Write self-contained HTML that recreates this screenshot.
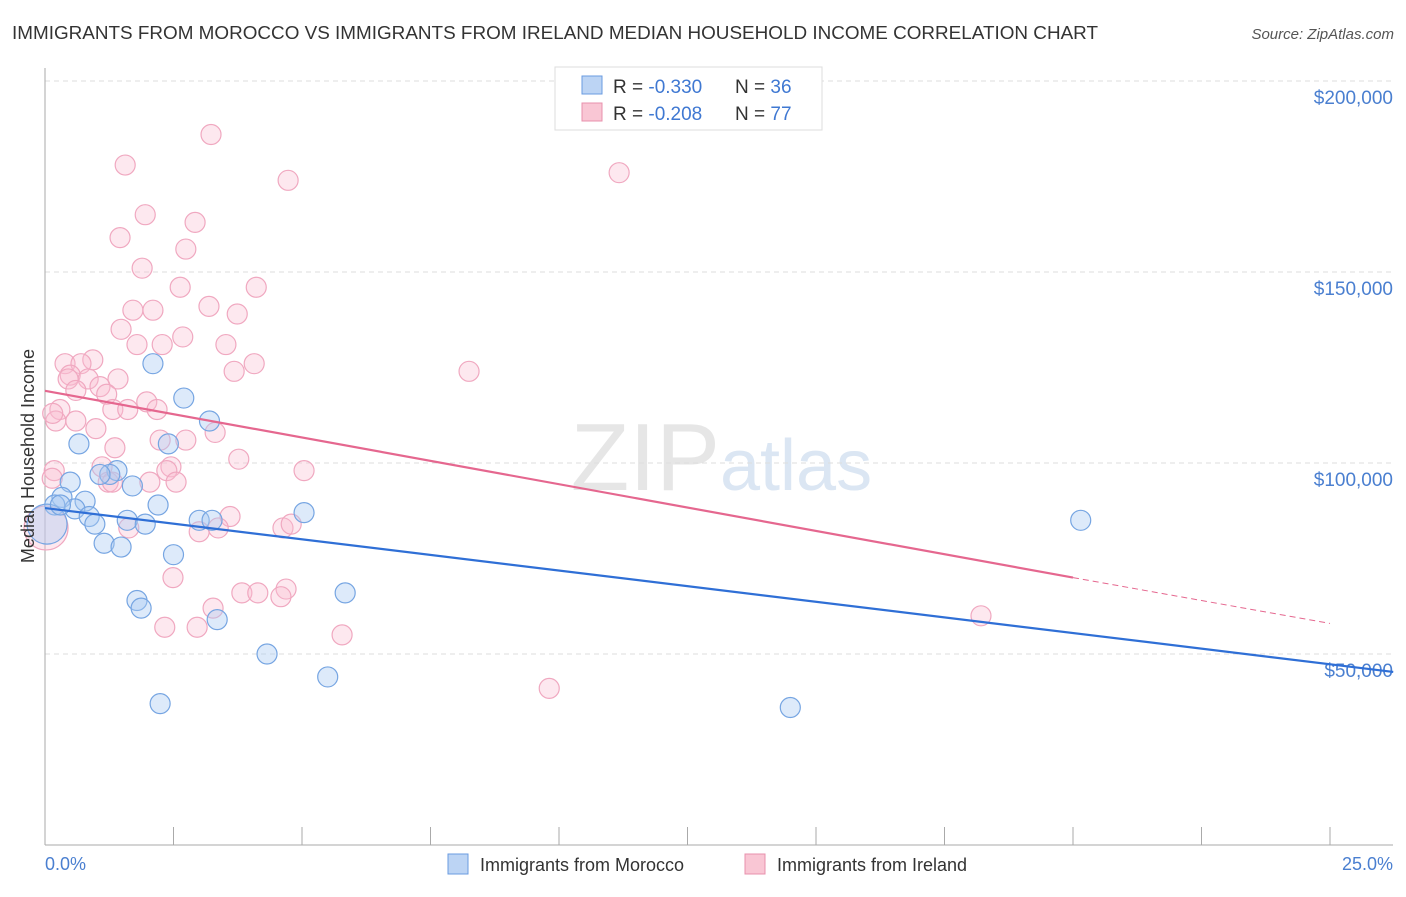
<!DOCTYPE html>
<html><head><meta charset="utf-8"><style>
body{margin:0;background:#fff;font-family:"Liberation Sans",sans-serif;}
svg text{font-family:"Liberation Sans",sans-serif;}
</style></head><body>
<svg id="c" width="1406" height="892" xmlns="http://www.w3.org/2000/svg">
<text x="12" y="39" font-size="18" fill="#333" textLength="1086" lengthAdjust="spacingAndGlyphs">IMMIGRANTS FROM MOROCCO VS IMMIGRANTS FROM IRELAND MEDIAN HOUSEHOLD INCOME CORRELATION CHART</text>
<text x="1394" y="39" font-size="15" fill="#555" font-style="italic" text-anchor="end">Source: ZipAtlas.com</text>
<text x="720" y="490" font-size="96" fill="#e6e6e6" font-family="Liberation Serif" text-anchor="end">ZIP</text>
<text x="720" y="490" font-size="72" fill="#dbe6f3">atlas</text>
<g id="grid"></g>
<line x1="45" y1="68" x2="45" y2="845" stroke="#aaa"/>
<line x1="45" y1="845" x2="1393" y2="845" stroke="#aaa"/>
<g id="ticks"></g>
<g id="pts"></g>
<g id="lines"></g>
<text x="34" y="456" font-size="18" fill="#333" text-anchor="middle" transform="rotate(-90 34 456)">Median Household Income</text>
<text x="45" y="870" font-size="18" fill="#4a7fd0">0.0%</text>
<text x="1393" y="870" font-size="18" fill="#4a7fd0" text-anchor="end">25.0%</text>
<g>
<rect x="555" y="67" width="267" height="63" fill="#fff" stroke="#ddd"/>
<rect x="582" y="76" width="20" height="18" fill="#bcd4f4" stroke="#6a9be0"/>
<rect x="582" y="103" width="20" height="18" fill="#f9c6d4" stroke="#e890ac"/>
<text x="613" y="93" font-size="19" fill="#333">R = <tspan fill="#3f78d2">-0.330</tspan><tspan x="735">N = </tspan><tspan fill="#3f78d2">36</tspan></text>
<text x="613" y="120" font-size="19" fill="#333">R = <tspan fill="#3f78d2">-0.208</tspan><tspan x="735">N = </tspan><tspan fill="#3f78d2">77</tspan></text>
</g>
<g>
<rect x="448" y="854" width="20" height="20" fill="#bcd4f4" stroke="#6a9be0"/>
<text x="480" y="871" font-size="18" fill="#333">Immigrants from Morocco</text>
<rect x="745" y="854" width="20" height="20" fill="#f9c6d4" stroke="#e890ac"/>
<text x="777" y="871" font-size="18" fill="#333">Immigrants from Ireland</text>
</g>
</svg>
<script>
const yTicks=[50000,100000,150000,200000];
const yTickLabels=["$50,000","$100,000","$150,000","$200,000"];
const xTicks=[0,2.5,5,7.5,10,12.5,15,17.5,20,22.5,25];
const moroccoX=[2.1,2.7,3.2,0.66,2.4,1.4,1.26,1.07,0.49,1.7,0.33,0.78,0.19,0.58,2.2,5.04,0.86,0.97,1.6,1.95,3.0,3.25,1.15,1.48,2.5,1.79,1.87,3.35,5.84,4.32,5.5,2.24,14.5,20.15,0.04,0.3];
const moroccoY=[126,117,111,105,105,98,97,97,95,94,91,90,89,88,89,87,86,84,85,84,85,85,79,78,76,64,62,59,66,50,44,37,36,85,84,89];
const moroccoR=[10,10,10,10,10,10,10,10,10,10,10,10,10,10,10,10,10,10,10,10,10,10,10,10,10,10,10,10,10,10,10,10,10,10,20,10];
const irelandX=[3.23,1.56,4.73,11.17,1.95,2.92,1.46,2.74,1.89,2.63,4.11,3.19,1.71,2.1,3.74,1.48,2.68,1.79,2.28,3.52,0.39,0.93,0.7,4.07,0.49,3.68,8.25,0.84,0.45,1.42,1.07,0.6,1.2,1.98,0.29,1.32,1.61,2.18,0.6,0.21,0.99,3.31,2.24,2.74,1.36,0.18,0.14,1.11,3.77,2.45,2.37,5.04,1.23,1.31,2.04,2.55,3.0,3.6,3.37,1.63,4.63,4.79,2.49,4.69,3.83,4.14,4.59,3.27,2.96,2.33,5.78,9.81,18.21,0.02,0.15];
const irelandY=[186,178,174,176,165,163,159,156,151,146,146,141,140,140,139,135,133,131,131,131,126,127,126,126,123,124,124,122,122,122,120,119,118,116,114,114,114,114,111,111,109,108,106,106,104,98,96,99,101,99,98,98,95,95,95,95,82,86,83,83,83,84,70,67,66,66,65,62,57,57,55,41,60,83,113];
const irelandR=[10,10,10,10,10,10,10,10,10,10,10,10,10,10,10,10,10,10,10,10,10,10,10,10,10,10,10,10,10,10,10,10,10,10,10,10,10,10,10,10,10,10,10,10,10,10,10,10,10,10,10,10,10,10,10,10,10,10,10,10,10,10,10,10,10,10,10,10,10,10,10,10,10,22,10];
const moroccoTrend=[88200,45300];
const moroccoTrendX=[0,26.23];
const irelandTrend=[118900,70000,58000];
const irelandTrendX=[0,20,25];
const NS="http://www.w3.org/2000/svg";
const X=p=>45+p*51.4;
const Y=v=>845-v/50000*191;
function mk(t,a,par){const e=document.createElementNS(NS,t);for(const k in a)e.setAttribute(k,a[k]);par.appendChild(e);return e;}
const grid=document.getElementById('grid'),ticks=document.getElementById('ticks'),pts=document.getElementById('pts'),lines=document.getElementById('lines');
yTicks.forEach((v,i)=>{
 const l=mk('line',{x1:45,x2:1393,y1:Y(v),y2:Y(v),stroke:'#ddd','stroke-dasharray':'5,4'},grid);
 
 
 const t=mk('text',{x:1393,y:Y(v)+23,'font-size':19,fill:'#4a7fd0','text-anchor':'end'},grid);
 t.textContent=yTickLabels[i];
 
 
});
xTicks.forEach(p=>{
 const l=mk('line',{x1:X(p),x2:X(p),y1:827,y2:845,stroke:'#aaa'},ticks);
 
 
});
irelandX.forEach((p,i)=>{
 const c=mk('circle',{cx:X(p),cy:Y(irelandY[i]*1000),r:irelandR[i],fill:'rgba(248,190,208,0.35)',stroke:'#f0a8c0','stroke-width':1.2},pts);
 
 
});
moroccoX.forEach((p,i)=>{
 const c=mk('circle',{cx:X(p),cy:Y(moroccoY[i]*1000),r:moroccoR[i],fill:'rgba(170,202,242,0.4)',stroke:'#76a5e2','stroke-width':1.2},pts);
 
 
});
const bl=mk('line',{x1:X(moroccoTrendX[0]),y1:Y(moroccoTrend[0]),x2:X(moroccoTrendX[1]),y2:Y(moroccoTrend[1]),stroke:'#2f6fd6','stroke-width':2.2},lines);


const pl=mk('line',{x1:X(irelandTrendX[0]),y1:Y(irelandTrend[0]),x2:X(irelandTrendX[1]),y2:Y(irelandTrend[1]),stroke:'#e5678f','stroke-width':2.2},lines);


const pd=mk('line',{x1:X(irelandTrendX[1]),y1:Y(irelandTrend[1]),x2:X(irelandTrendX[2]),y2:Y(irelandTrend[2]),stroke:'#e5678f','stroke-width':1,'stroke-dasharray':'6,4'},lines);


</script>
</body></html>
